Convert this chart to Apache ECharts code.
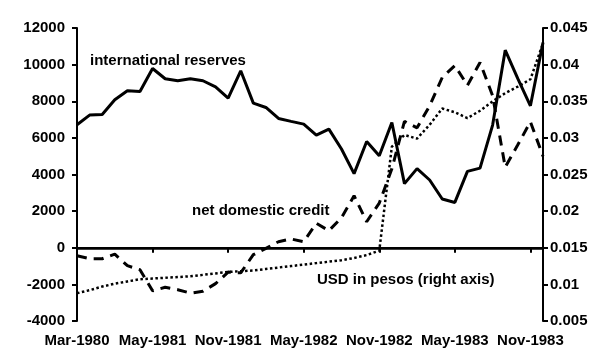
<!DOCTYPE html>
<html>
<head>
<meta charset="utf-8">
<script src="https://cdn.jsdelivr.net/npm/echarts@6/dist/echarts.min.js"></script>
<style>
html,body{margin:0;padding:0;background:#fff;}
#chart{width:600px;height:360px;}
</style>
</head>
<body>
<div id="chart"></div>
<script>
var categories = ['Mar-1980','Jun-1980','Sep-1980','Dec-1980','Mar-1981','Apr-1981','May-1981','Jun-1981','Jul-1981','Aug-1981','Sep-1981','Oct-1981','Nov-1981','Dec-1981','Jan-1982','Feb-1982','Mar-1982','Apr-1982','May-1982','Jun-1982','Jul-1982','Aug-1982','Sep-1982','Oct-1982','Nov-1982','Dec-1982','Jan-1983','Feb-1983','Mar-1983','Apr-1983','May-1983','Jun-1983','Jul-1983','Aug-1983','Sep-1983','Oct-1983','Nov-1983','Dec-1983'];

var internationalReserves = [6716,7245,7280,8080,8570,8535,9790,9230,9120,9230,9120,8790,8170,9665,7900,7660,7060,6900,6750,6150,6480,5390,4050,5800,5020,6840,3500,4320,3700,2660,2475,4170,4350,6700,10790,9230,7750,11210];

var netDomesticCredit = [-440,-600,-600,-350,-980,-1200,-2350,-2160,-2290,-2480,-2380,-1960,-1330,-1370,-380,-30,330,480,330,1340,930,1640,2840,1420,2440,4310,6900,6550,7750,9300,9950,8870,10120,8300,4400,5620,6880,5000];

var usdInPesos = [0.0088,0.0092,0.0097,0.0101,0.0104,0.0107,0.0108,0.0109,0.0110,0.0111,0.0113,0.0115,0.0117,0.0118,0.0119,0.0121,0.0123,0.0125,0.0127,0.0129,0.0131,0.0133,0.0136,0.0140,0.0146,0.0288,0.0304,0.0299,0.0318,0.0340,0.0335,0.0327,0.0337,0.0350,0.0361,0.0370,0.0380,0.0429];

var leftTicks = {min:-4000, max:12000, interval:2000};
var rightTicks = {min:0.005, max:0.045, interval:0.005};
var labelEvery = 6;

var annotations = [
  {text:'international reserves', x:90, y:62},
  {text:'net domestic credit', x:192, y:212},
  {text:'USD in pesos (right axis)', x:317, y:281}
];

var FONT = '"Liberation Sans", Arial, sans-serif';
var labelStyle = {color:'#000', fontFamily:FONT, fontWeight:'bold', fontSize:15};
function everySixth(i){ return i % labelEvery === 0; }

var chart = echarts.init(document.getElementById('chart'), null, {renderer:'canvas'});
chart.setOption({
  animation:false,
  backgroundColor:'#fff',
  grid:{left:77, right:57, top:28, bottom:39, containLabel:false},
  xAxis:{
    type:'category',
    data:categories,
    boundaryGap:false,
    axisLine:{show:true, lineStyle:{color:'#000', width:2}},
    axisTick:{show:true, interval:everySixth, length:5, inside:false, lineStyle:{color:'#000', width:2}},
    axisLabel:Object.assign({interval:everySixth, margin:12, hideOverlap:false}, labelStyle),
    splitLine:{show:false}
  },
  yAxis:[{
    type:'value',
    min:leftTicks.min, max:leftTicks.max, interval:leftTicks.interval,
    axisLine:{show:true, lineStyle:{color:'#000', width:2}},
    axisTick:{show:true, length:5, lineStyle:{color:'#000', width:2}},
    axisLabel:Object.assign({margin:12, formatter:function(v){return String(v);}}, labelStyle),
    splitLine:{show:false}
  },{
    type:'value',
    position:'right',
    min:rightTicks.min, max:rightTicks.max, interval:rightTicks.interval,
    axisLine:{show:true, lineStyle:{color:'#000', width:2}},
    axisTick:{show:true, length:5, lineStyle:{color:'#000', width:2}},
    axisLabel:Object.assign({margin:7, formatter:function(v){return String(+v.toFixed(3));}}, labelStyle),
    splitLine:{show:false}
  }],
  series:[{
    name:'international reserves',
    type:'line',
    data:internationalReserves,
    yAxisIndex:0,
    symbol:'none',
    lineStyle:{color:'#000', width:3, type:'solid'},
    z:4,
    markLine:{
      silent:true,
      symbol:'none',
      label:{show:false},
      lineStyle:{color:'#000', width:2.5, type:'solid'},
      data:[{yAxis:0}]
    }
  },{
    name:'net domestic credit',
    type:'line',
    data:netDomesticCredit,
    yAxisIndex:0,
    symbol:'none',
    lineStyle:{color:'#000', width:3, type:[10,7]},
    z:3
  },{
    name:'USD in pesos (right axis)',
    type:'line',
    data:usdInPesos,
    yAxisIndex:1,
    symbol:'none',
    lineStyle:{color:'#000', width:2.5, type:[2.5,2.5]},
    z:2
  }],
  graphic:annotations.map(function(a){
    return {
      type:'text',
      left:a.x,
      top:a.y - 9,
      style:{
        text:a.text,
        fill:'#000',
        font:'bold 15px ' + FONT
      }
    };
  })
});
</script>
</body>
</html>
